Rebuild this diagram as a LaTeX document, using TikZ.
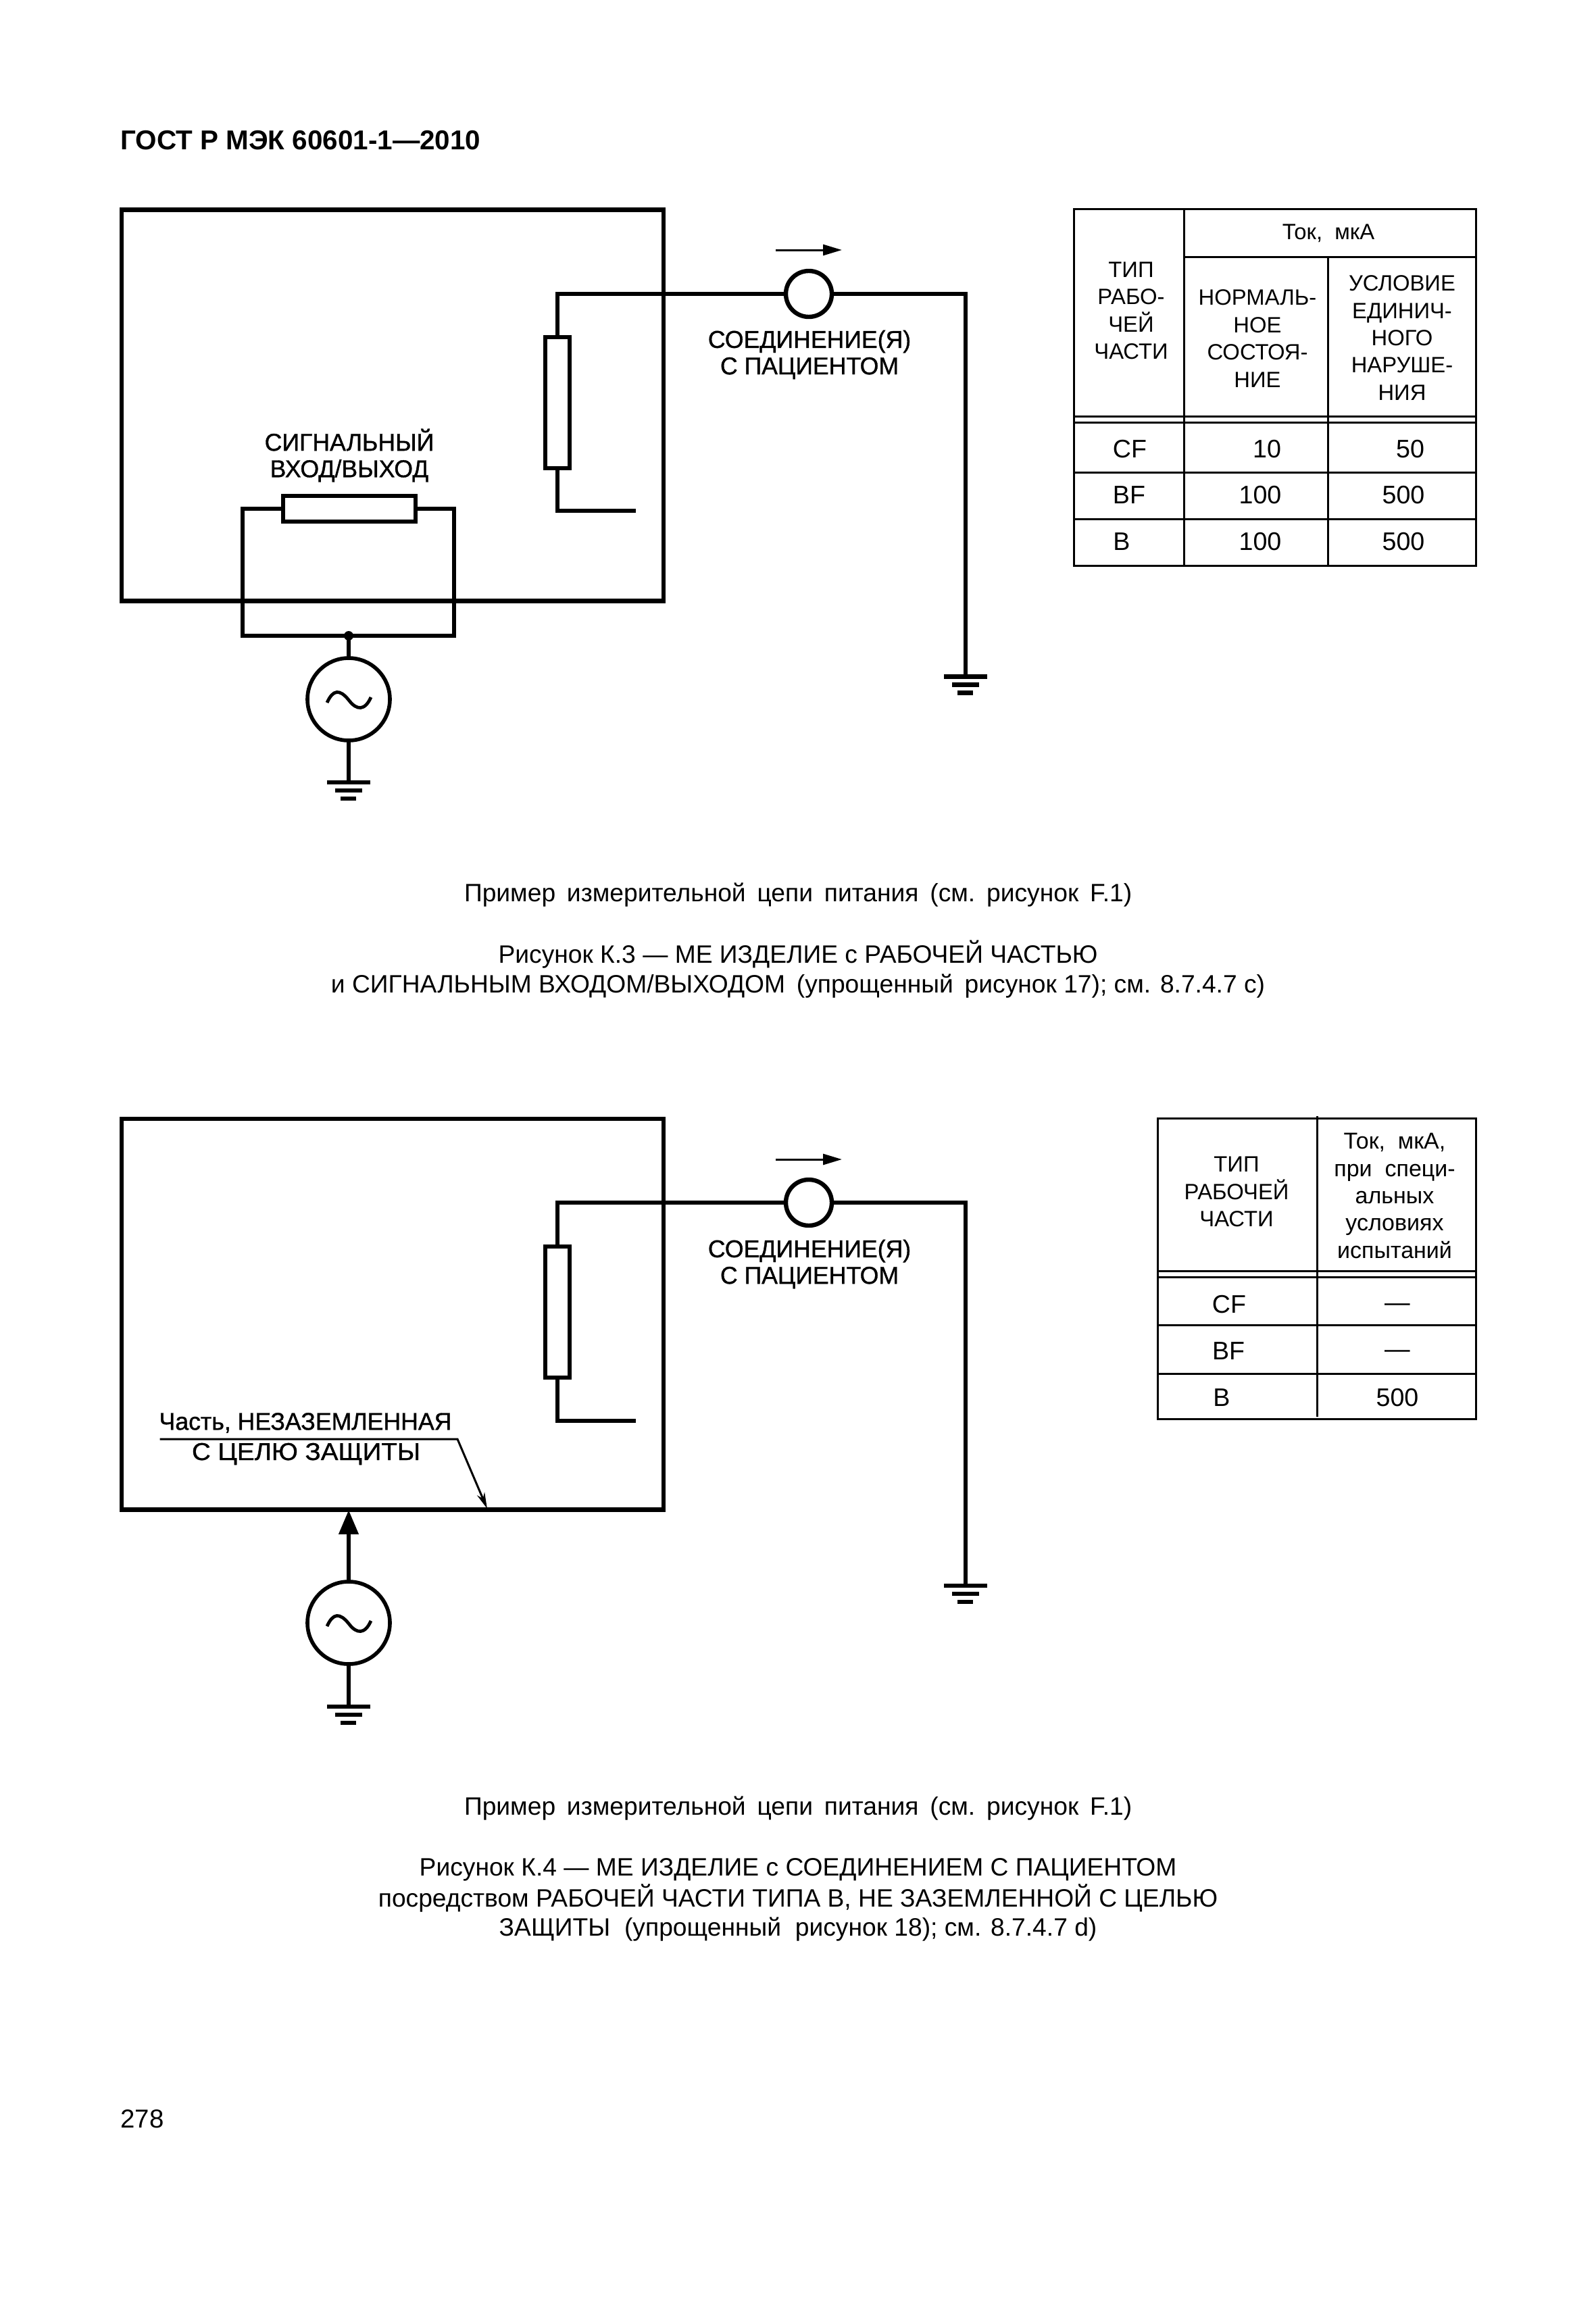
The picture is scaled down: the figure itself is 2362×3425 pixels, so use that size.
\documentclass[tikz,border=0pt]{standalone}
\usepackage{fontspec}
\setmainfont{Liberation Sans}
\newfontfamily\labelfont[FakeBold=1,FakeStretch=0.99]{Liberation Sans}
\newfontfamily\widelabelfont[FakeBold=1,FakeStretch=1.07]{Liberation Sans}
\newcommand{\wsp}{\hspace{4.2pt}}
\newcommand{\wspb}{\hspace{5.2pt}}
\usetikzlibrary{arrows.meta}
\tikzset{every picture/.style={line width=0.75pt},
  wire/.style={line width=1.7pt},
  thin wire/.style={line width=0.75pt},
  rule/.style={line width=0.75pt},
  resist/.style={draw,line width=1.5pt,inner sep=0pt,outer sep=0pt},
  term/.style={draw,circle,line width=1.6pt,inner sep=0pt,outer sep=0pt,minimum size=17pt},
  source/.style={draw,circle,line width=1.4pt,inner sep=0pt,outer sep=0pt,minimum size=30.5pt},
  caption/.style={inner sep=0pt,font=\fontsize{9.3}{11}\selectfont},
  label/.style={inner sep=0pt,align=center,font=\labelfont\fontsize{9}{9.8}\selectfont},
  cell/.style={inner sep=0pt,align=center,font=\fontsize{9.4}{10.1}\selectfont},
  head/.style={inner sep=0pt,align=center,font=\fontsize{8.2}{10.1}\selectfont}}

\begin{document}
\begin{tikzpicture}[x=0.25pt,y=0.25pt,yscale=-1,xscale=1]
\useasboundingbox (0,0) rectangle (2362,3425);

% Text Node
\node (title) [inner sep=0pt,anchor=west,font=\bfseries\fontsize{10.1}{12}\selectfont] at (177,208) {ГОСТ Р МЭК 60601-1—2010};
\node (pagenum) [caption,anchor=west,font=\fontsize{9.6}{11}\selectfont] at (177,3136) {278};

%Upper figure
\node (box1) [draw,wire,inner sep=0pt,outer sep=0pt,anchor=north west,minimum width=200.5pt,minimum height=144.7pt] at (180,310.5) {};
\node (res1) [resist,minimum width=9pt,minimum height=48.5pt] at (825,595.5) {};
\node (sig1) [resist,minimum width=49pt,minimum height=9.5pt] at (516.5,753) {};
\node (term1) [term] at (1197,435) {};
\node (src1) [source] at (516,1035) {};
\coordinate (wa1) at (825,435);
\coordinate (wb1) at (825,756);
\coordinate (wc1) at (941,756);
\coordinate (wd1) at (1429,435);
\coordinate (gnd1) at (1429,1001.5);
\coordinate (gnd2) at (516,1158);
\coordinate (la1) at (359,753);
\coordinate (la2) at (359,941);
\coordinate (lb1) at (672,753);
\coordinate (lb2) at (672,941);
\coordinate (dot1) at (516,941);
\coordinate (cur1a) at (1148,370);
\coordinate (cur1b) at (1246,370);

% Connection
\draw [wire,line join=miter] (res1.north) -- (wa1) -- (term1.west);
\draw [wire,line join=miter] (term1.east) -- (wd1) -- (gnd1);
\draw [wire,line join=miter] (res1.south) -- (wb1) -- (wc1);
\draw [wire,line join=miter] (sig1.west) -- (la1) -- (la2) -- (lb2) -- (lb1) -- (sig1.east);
\draw [wire] (dot1) -- (src1.north);
\draw [wire] (src1.south) -- (gnd2);
\draw [thin wire,-{Triangle[length=7pt,width=4pt]}] (cur1a) -- (cur1b);
\fill (dot1) circle (7);
% Ground
\draw [wire] (1397,1001.5) -- (1461,1001.5) (1409,1013.5) -- (1449,1013.5) (1417,1025.5) -- (1440,1025.5);
\draw [wire] (484,1158) -- (548,1158) (496,1170) -- (536,1170) (504,1182) -- (527,1182);
% Tilde
\draw [line width=1.2pt] (484,1040) .. controls (493,1020) and (503,1020) .. (516,1036) .. controls (528,1052) and (540,1052) .. (549,1032);

% Text Node
\node (conn1) [label] at (1198,525) {СОЕДИНЕНИЕ(Я)\\С ПАЦИЕНТОМ};
\node (sigtxt) [label] at (517,674) {СИГНАЛЬНЫЙ\\ВХОД/ВЫХОД};

%Upper table
\draw [rule] (1589,309) rectangle (2184,837);
\draw [rule] (1752,309) -- (1752,837);
\draw [rule] (1965,380) -- (1965,837);
\draw [rule] (1752,380) -- (2184,380);
\draw [rule] (1589,616) -- (2184,616);
\draw [rule] (1589,625) -- (2184,625);
\draw [rule] (1589,699) -- (2184,699);
\draw [rule] (1589,768) -- (2184,768);
\node (cur1) [head] at (1966,345) {Ток,~ мкА};
\node (typ1) [head] at (1674,460) {ТИП\\РАБО-\\ЧЕЙ\\ЧАСТИ};
\node (nrm1) [head] at (1861,501) {НОРМАЛЬ-\\НОЕ\\СОСТОЯ-\\НИЕ};
\node (flt1) [head] at (2075,500) {УСЛОВИЕ\\ЕДИНИЧ-\\НОГО\\НАРУШЕ-\\НИЯ};
\node (cf1) [cell] at (1672,665) {CF};
\node (cfa1) [cell] at (1875,665) {10};
\node (cfb1) [cell] at (2087,665) {50};
\node (bf1) [cell] at (1671,733) {BF};
\node (bfa1) [cell] at (1865,733) {100};
\node (bfb1) [cell] at (2077,733) {500};
\node (b1) [cell] at (1660,802) {B};
\node (ba1) [cell] at (1865,802) {100};
\node (bb1) [cell] at (2077,802) {500};

% Text Node
\node (meas1) [caption] at (1181,1325) {Пример\wsp измерительной\wsp цепи\wsp питания\wsp (см.\wsp рисунок\wsp F.1)};
\node (capa1) [caption] at (1181,1413) {Рисунок К.3 — МЕ ИЗДЕЛИЕ с РАБОЧЕЙ ЧАСТЬЮ};
\node (capb1) [caption] at (1181,1460) {и СИГНАЛЬНЫМ ВХОДОМ/ВЫХОДОМ\wsp (упрощенный\wsp рисунок 17); см. 8.7.4.7 с)};

%Lower figure
\node (box2) [draw,wire,inner sep=0pt,outer sep=0pt,anchor=north west,minimum width=200.5pt,minimum height=144.7pt] at (180,1656) {};
\node (res2) [resist,minimum width=9pt,minimum height=48.5pt] at (825,1942) {};
\node (term2) [term] at (1197,1780) {};
\node (src2) [source] at (516,2402) {};
\coordinate (wa2) at (825,1780);
\coordinate (wb2) at (825,2103);
\coordinate (wc2) at (941,2103);
\coordinate (wd2) at (1429,1780);
\coordinate (gnd3) at (1429,2347);
\coordinate (gnd4) at (516,2526);
\coordinate (cur2a) at (1148,1716);
\coordinate (cur2b) at (1246,1716);
\coordinate (lead1) at (236.5,2130);
\coordinate (lead2) at (677,2130);
\coordinate (lead3) at (721,2233);

% Connection
\draw [wire,line join=miter] (res2.north) -- (wa2) -- (term2.west);
\draw [wire,line join=miter] (term2.east) -- (wd2) -- (gnd3);
\draw [wire,line join=miter] (res2.south) -- (wb2) -- (wc2);
\draw [wire,-{Triangle[length=9pt,width=7pt]}] (src2.north) -- (src2.north |- box2.south);
\draw [wire] (src2.south) -- (gnd4);
\draw [thin wire,-{Stealth[length=6pt,width=3pt]}] (lead1) -- (lead2) -- (lead3);
\draw [thin wire,-{Triangle[length=7pt,width=4pt]}] (cur2a) -- (cur2b);
% Ground
\draw [wire] (1397,2347) -- (1461,2347) (1409,2359) -- (1449,2359) (1417,2371) -- (1440,2371);
\draw [wire] (484,2526) -- (548,2526) (496,2538) -- (536,2538) (504,2550) -- (527,2550);
% Tilde
\draw [line width=1.2pt] (484,2407) .. controls (493,2387) and (503,2387) .. (516,2403) .. controls (528,2419) and (540,2419) .. (549,2399);

% Text Node
\node (conn2) [label] at (1198,1871) {СОЕДИНЕНИЕ(Я)\\С ПАЦИЕНТОМ};
\node (parta) [label] at (452,2106) {Часть, НЕЗАЗЕМЛЕННАЯ};
\node (partb) [label,font=\widelabelfont\fontsize{9}{9.8}\selectfont] at (453,2152) {С ЦЕЛЮ ЗАЩИТЫ};

%Lower table
\draw [rule] (1713,1655) rectangle (2184,2100);
\draw [rule] (1949,1652) -- (1949,2097);
\draw [rule] (1713,1881) -- (2184,1881);
\draw [rule] (1713,1890) -- (2184,1890);
\draw [rule] (1713,1961) -- (2184,1961);
\draw [rule] (1713,2033) -- (2184,2033);
\node (typ2) [head] at (1830,1764) {ТИП\\РАБОЧЕЙ\\ЧАСТИ};
\node (cur2) [head,font=\fontsize{8.5}{10.1}\selectfont] at (2064,1770) {Ток,~ мкА,\\при~ специ-\\альных\\условиях\\испытаний};
\node (cf2) [cell] at (1819,1931) {CF};
\node (cfa2) [cell] at (2068,1935) {—};
\node (bf2) [cell] at (1818,2000) {BF};
\node (bfa2) [cell] at (2068,2004) {—};
\node (b2) [cell] at (1808,2069) {B};
\node (ba2) [cell] at (2068,2069) {500};

% Text Node
\node (meas2) [caption] at (1181,2677) {Пример\wsp измерительной\wsp цепи\wsp питания\wsp (см.\wsp рисунок\wsp F.1)};
\node (capa2) [caption] at (1181,2767) {Рисунок К.4 — МЕ ИЗДЕЛИЕ с СОЕДИНЕНИЕМ С ПАЦИЕНТОМ};
\node (capb2) [caption] at (1181,2810) {посредством РАБОЧЕЙ ЧАСТИ ТИПА В, НЕ ЗАЗЕМЛЕННОЙ С ЦЕЛЬЮ};
\node (capc2) [caption] at (1181,2856) {ЗАЩИТЫ\wspb (упрощенный\wspb рисунок 18); см. 8.7.4.7 d)};
\end{tikzpicture}
\end{document}
